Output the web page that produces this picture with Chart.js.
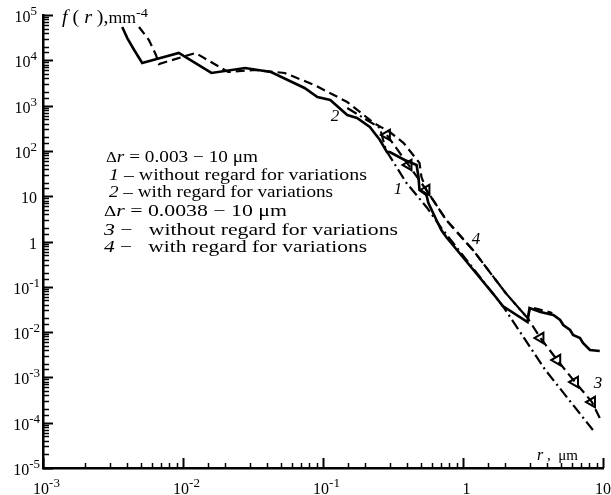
<!DOCTYPE html>
<html><head><meta charset="utf-8">
<script src="https://cdn.jsdelivr.net/npm/chart.js@4.4.0/dist/chart.umd.min.js"></script>
<style>html,body{margin:0;padding:0;background:#fff;}canvas{display:block;}</style>
</head><body>
<canvas id="c" width="611" height="495"></canvas>
<script>
// Curve "2" (solid)
const solidR = [0.00368,0.00400,0.00448,0.00511,0.00933,0.01596,0.0278,0.0425,0.0738,0.0912,0.1127,0.149,0.175,0.216,0.255,0.286,0.300,0.383,0.466,0.481,0.489,0.548,0.566,0.646,0.700,0.759,1.714,1.923,2.891,2.985,3.573,4.416,4.943,5.200,5.821,6.109,6.855,7.194,8.072,9.484];
const solidF = [54300,31000,16900,8710,14500,5250,6760,5520,2450,1550,1330,619,532,337,174,94.6,94.6,63.0,48.9,26.5,13.7,10.6,7.08,2.99,1.79,1.26,0.0596,0.0377,0.0167,0.0340,0.0278,0.0238,0.0185,0.01436,0.01112,0.00863,0.00741,0.00574,0.00403,0.00383];
// Curve "4" (dashed)
const dashR = [0.00485,0.00571,0.00641,0.00673,0.0123,0.0210,0.0327,0.0533,0.0869,0.149,0.231,0.300,0.377,0.489,0.505,0.548,0.759,1.178,2.018,2.891,3.034,4.345];
const dashF = [54300,28100,13100,8280,14500,5520,6110,5250,2850,1200,413,261,149,54.1,26.5,13.7,2.99,0.649,0.0729,0.0205,0.0358,0.0264];
// Curve "3" (dashed with triangles)
const triR = [0.286,0.408,0.548,0.759,1.178,2.018,2.891,3.573,4.71,6.31,8.34,9.48];
const triF = [224,48.9,13.7,2.99,0.649,0.0729,0.0205,0.00741,0.00242,0.00079,0.000286,0.000127];
const markR = [0.286,0.408,0.548,3.573,4.71,6.31,8.34];
const markF = [224,48.9,13.7,0.00741,0.00242,0.00079,0.000286];
// Curve "1" (dash-dot)
const ddR = [0.149,0.255,0.281,0.395,0.548,0.700,1.923,3.873,8.47];
const ddF = [885,321,105,19.5,5.78,1.99,0.0377,0.00146,0.000069];

// tick labels: [base, exponent]
const xTickLabels = [['10','-3'],['10','-2'],['10','-1'],['1',''],['10','']];
const yTickLabels = [['10','-5'],['10','-4'],['10','-3'],['10','-2'],['10','-1'],['1',''],['10',''],['10','2'],['10','3'],['10','4'],['10','5']];

const pts = (r, f) => r.map((v, i) => ({x: v, y: f[i]}));
const SERIF = '"Liberation Serif", "Times New Roman", serif';

function runsWidth(ctx, runs) {
  let w = 0;
  runs.forEach(r => { ctx.font = `${r[1]} ${r[2]}px ${SERIF}`; w += ctx.measureText(r[0]).width; });
  return w;
}
function drawRuns(ctx, x, y, runs, target) {
  const w = runsWidth(ctx, runs);
  ctx.save();
  ctx.translate(x, y);
  if (target) ctx.scale(target / w, 1);
  let cx = 0;
  runs.forEach(r => {
    ctx.font = `${r[1]} ${r[2]}px ${SERIF}`;
    ctx.fillText(r[0], cx, r[3] || 0);
    cx += ctx.measureText(r[0]).width;
  });
  ctx.restore();
}
const labelRuns = l => l[1] ? [[l[0],'normal',16,0],[l[1],'normal',13,-7]] : [[l[0],'normal',16,0]];

const deco = {
  id: 'deco',
  afterDraw(chart) {
    const ctx = chart.ctx;
    const ca = chart.chartArea;
    const xs = chart.scales.x, ys = chart.scales.y;
    ctx.save();
    ctx.strokeStyle = '#000';
    ctx.fillStyle = '#000';
    const isMajor = v => Math.abs(Math.log10(v) - Math.round(Math.log10(v))) < 1e-6;
    ys.ticks.forEach(t => {
      const py = Math.round(ys.getPixelForValue(t.value)) + 0.5;
      const maj = isMajor(t.value);
      ctx.lineWidth = maj ? 2 : 1.5;
      ctx.beginPath(); ctx.moveTo(ca.left, py); ctx.lineTo(ca.left + (maj ? 10 : 6), py); ctx.stroke();
      if (maj) {
        const lab = yTickLabels[Math.round(Math.log10(t.value)) + 5];
        const runs = labelRuns(lab);
        const w = runsWidth(ctx, runs);
        const right = lab[1] ? (lab[1][0] === '-' ? 40 : 37) : 37;
        drawRuns(ctx, right - w, py + 6, runs);
      }
    });
    xs.ticks.forEach(t => {
      const px = Math.round(xs.getPixelForValue(t.value)) + 0.5;
      const maj = isMajor(t.value);
      ctx.lineWidth = maj ? 2 : 1.5;
      ctx.beginPath(); ctx.moveTo(px, ca.bottom); ctx.lineTo(px, ca.bottom - (maj ? 10 : 5)); ctx.stroke();
      if (maj) {
        const lab = xTickLabels[Math.round(Math.log10(t.value)) + 3];
        const runs = labelRuns(lab);
        const w = runsWidth(ctx, runs);
        let lx = px + 3 - w / 2;
        if (lx + w > 611) lx = 611 - w;
        drawRuns(ctx, lx, 494, runs);
      }
    });
    ctx.textBaseline = 'alphabetic';
    ctx.textAlign = 'left';
    // axis titles
    drawRuns(ctx, 62, 23, [['f','italic',18,0],[' (','normal',18,0],[' r','italic',18,0],[' ),','normal',18,0],['mm','normal',16,0],['-4','normal',13,-6]], 86);
    drawRuns(ctx, 537, 460, [['r','italic',16,0],[' ,  μm','normal',15,0]]);
    // legend block
    drawRuns(ctx, 106, 162, [['Δ','normal',14,0],['r','italic',16,0],[' = 0.003 − 10 μm','normal',16,0]], 152);
    drawRuns(ctx, 109, 180, [['1','italic',16,0],[' – without regard for variations','normal',16,0]], 258);
    drawRuns(ctx, 109, 197, [['2','italic',16,0],[' – with regard for variations','normal',16,0]], 224);
    drawRuns(ctx, 104, 216, [['Δ','normal',14,0],['r','italic',16,0],[' = 0.0038 − 10 μm','normal',16,0]], 183);
    drawRuns(ctx, 104, 235, [['3','italic',16,0],[' −   without regard for variations','normal',16,0]], 294);
    drawRuns(ctx, 104, 252, [['4','italic',16,0],[' −   with regard for variations','normal',16,0]], 263);
    // curve labels
    ctx.font = `italic 17px ${SERIF}`;
    ctx.textAlign = 'center';
    ctx.fillText('2', 335, 121);
    ctx.fillText('1', 398, 194);
    ctx.fillText('4', 476, 244);
    ctx.fillText('3', 598, 388);
    ctx.restore();
  }
};

new Chart(document.getElementById('c'), {
  type: 'scatter',
  data: {
    datasets: [
      {data: pts(solidR, solidF), showLine: true, borderColor: '#000', borderWidth: 2.6, pointRadius: 0, tension: 0},
      {data: pts(dashR, dashF), showLine: true, borderColor: '#000', borderWidth: 2.2, borderDash: [9, 5], pointRadius: 0, tension: 0},
      {data: pts(triR, triF), showLine: true, borderColor: '#000', borderWidth: 2.2, borderDash: [10, 5], pointRadius: 0, tension: 0},
      {data: pts(markR, markF), showLine: false, pointStyle: 'triangle', pointRadius: 6, pointRotation: 30, pointBorderWidth: 2, pointBorderColor: '#000', pointBackgroundColor: '#fff'},
      {data: pts(ddR, ddF), showLine: true, borderColor: '#000', borderWidth: 2.2, borderDash: [11, 4, 2, 4], pointRadius: 0, tension: 0}
    ]
  },
  options: {
    responsive: false, animation: false, devicePixelRatio: 1,
    layout: {padding: {top: 15, right: 3, left: 0, bottom: 0}},
    plugins: {legend: {display: false}, tooltip: {enabled: false}},
    scales: {
      x: {
        type: 'logarithmic', min: 1e-3, max: 10,
        grid: {display: false, drawTicks: false},
        border: {display: true, color: '#000', width: 2.5},
        ticks: {display: false, autoSkip: false},
        afterFit(s) { s.height = 27; s.paddingLeft = 0; s.paddingRight = 0; }
      },
      y: {
        type: 'logarithmic', min: 1e-5, max: 1e5,
        grid: {display: false, drawTicks: false},
        border: {display: true, color: '#000', width: 2.5},
        ticks: {display: false, autoSkip: false},
        afterFit(s) { s.width = 43; s.paddingTop = 0; s.paddingBottom = 0; }
      }
    }
  },
  plugins: [deco]
});
</script>
</body></html>
